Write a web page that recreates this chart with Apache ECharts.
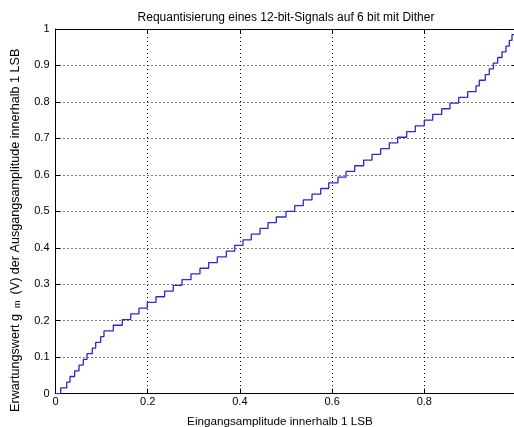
<!DOCTYPE html>
<html>
<head>
<meta charset="utf-8">
<script src="https://cdn.jsdelivr.net/npm/echarts@6/dist/echarts.min.js"></script>
<style>
html,body{margin:0;padding:0;background:#fff;}
#c{width:514px;height:427px;}
</style>
</head>
<body>
<div id="c"></div>
<script>
// x positions (input amplitude) where the output steps up by one level
var stepEdges = [0, 0.0113, 0.0243, 0.0315, 0.0416, 0.0510, 0.0603, 0.0683, 0.0798, 0.0872,
  0.0980, 0.1052, 0.1254, 0.1449, 0.1631, 0.1811, 0.1991, 0.2180, 0.2367, 0.2555,
  0.2744, 0.2939, 0.3134, 0.3323, 0.3510, 0.3705, 0.3887, 0.4067, 0.4247, 0.4436,
  0.4610, 0.4790, 0.5000, 0.5189, 0.5375, 0.5564, 0.5753, 0.5926, 0.6128, 0.6302,
  0.6490, 0.6685, 0.6866, 0.7054, 0.7241, 0.7423, 0.7618, 0.7805, 0.8000, 0.8182,
  0.8377, 0.8558, 0.8746, 0.8941, 0.9121, 0.9193, 0.9323, 0.9410, 0.9497, 0.9592,
  0.9685, 0.9772, 0.9844, 0.9902, 1.0];
// output levels after each edge
var stepLevels = [0, 0.0156, 0.0313, 0.0469, 0.0625, 0.0781, 0.0938, 0.1094, 0.1250, 0.1406,
  0.1563, 0.1719, 0.1875, 0.2031, 0.2188, 0.2344, 0.2500, 0.2656, 0.2813, 0.2969,
  0.3125, 0.3281, 0.3438, 0.3594, 0.3750, 0.3906, 0.4063, 0.4219, 0.4375, 0.4531,
  0.4688, 0.4844, 0.5000, 0.5156, 0.5313, 0.5469, 0.5625, 0.5781, 0.5938, 0.6094,
  0.6250, 0.6406, 0.6563, 0.6719, 0.6875, 0.7031, 0.7188, 0.7344, 0.7500, 0.7656,
  0.7813, 0.7969, 0.8125, 0.8281, 0.8438, 0.8594, 0.8750, 0.8906, 0.9063, 0.9219,
  0.9375, 0.9531, 0.9688, 0.9844, 0.9844];
var xTicks = [0, 0.2, 0.4, 0.6, 0.8];
var yTicks = [0, 0.1, 0.2, 0.3, 0.4, 0.5, 0.6, 0.7, 0.8, 0.9, 1];

var titleText = 'Requantisierung eines 12-bit-Signals auf 6 bit mit Dither';
var xLabel = 'Eingangsamplitude innerhalb 1 LSB';

var pts = stepEdges.map(function (x, i) { return [x, stepLevels[i]]; });

var FONT = '"Liberation Sans", Arial, sans-serif';
var gridLine = { show: true, lineStyle: { color: '#000', type: [1, 3], width: 1 } };

var chart = echarts.init(document.getElementById('c'), null, { renderer: 'canvas' });
chart.setOption({
  animation: false,
  backgroundColor: '#fff',
  title: {
    text: titleText, left: 281, top: 7, textAlign: 'center',
    textStyle: { fontFamily: FONT, fontSize: 12, fontWeight: 'normal', color: '#000' }
  },
  grid: { left: 55.5, right: -2.5, top: 29, bottom: 33.4, containLabel: false, outerBoundsMode: 'none' },
  xAxis: [{
    type: 'value', min: 0, max: 1, interval: 0.2,
    name: xLabel, nameLocation: 'middle', nameGap: 22,
    nameTextStyle: { fontFamily: FONT, fontSize: 11.7, color: '#000', padding: [0, 12, 0, 0] },
    axisLine: { show: true, onZero: false, lineStyle: { color: '#000', width: 1 } },
    axisTick: { show: true, inside: true, length: 5, lineStyle: { color: '#000' } },
    axisLabel: { fontFamily: FONT, fontSize: 11, color: '#000', margin: 3, showMaxLabel: false,
      formatter: function (v) { return xTicks.indexOf(Math.round(v * 10) / 10) >= 0 ? String(Math.round(v * 10) / 10) : ''; } },
    splitLine: gridLine
  }, {
    type: 'value', min: 0, max: 1, interval: 0.2, position: 'top',
    axisLine: { show: true, onZero: false, lineStyle: { color: '#000', width: 1 } },
    axisTick: { show: true, inside: true, length: 5, lineStyle: { color: '#000' } },
    axisLabel: { show: false }, splitLine: { show: false }
  }],
  yAxis: [{
    type: 'value', min: 0, max: 1, interval: 0.1,
    name: '{n|Erwartungswert g}{s|m}{n|(V) der Ausgangsamplitude innerhalb 1 LSB}',
    nameLocation: 'middle', nameGap: 33, nameRotate: 90,
    nameTextStyle: {
      fontFamily: FONT, fontSize: 12.6, color: '#000', padding: [0, 38, 0, 0],
      rich: {
        n: { fontFamily: FONT, fontSize: 12.6, color: '#000' },
        s: { fontFamily: FONT, fontSize: 9, color: '#000', padding: [0, 6, 0, 6], verticalAlign: 'bottom', lineHeight: 9 }
      }
    },
    axisLine: { show: true, onZero: false, lineStyle: { color: '#000', width: 1 } },
    axisTick: { show: true, inside: true, length: 5, lineStyle: { color: '#000' } },
    axisLabel: { fontFamily: FONT, fontSize: 11, color: '#000', margin: 6,
      formatter: function (v) { return String(Math.round(v * 10) / 10); } },
    splitLine: gridLine
  }, {
    type: 'value', min: 0, max: 1, interval: 0.1, position: 'right',
    axisLine: { show: true, onZero: false, lineStyle: { color: '#000', width: 1 } },
    axisTick: { show: true, inside: true, length: 5 },
    axisLabel: { show: false }, splitLine: { show: false }
  }],
  series: [{
    type: 'line', step: 'end', data: pts, showSymbol: false, symbol: 'none',
    xAxisIndex: 0, yAxisIndex: 0,
    lineStyle: { color: '#2a2acc', width: 1.3 },
    clip: true, z: 3
  }]
});
</script>
</body>
</html>
